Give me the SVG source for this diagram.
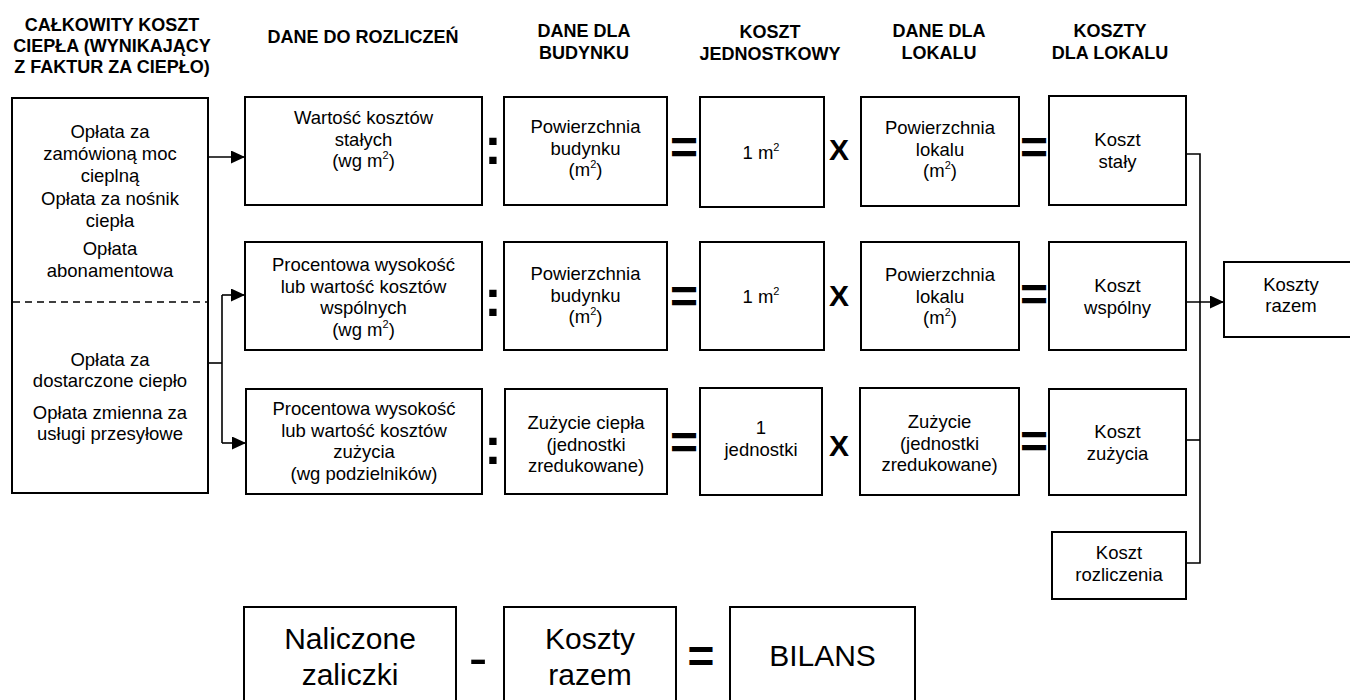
<svg xmlns="http://www.w3.org/2000/svg" width="1350" height="700" viewBox="0 0 1350 700">
<defs>
<style>
.box{fill:#fff;stroke:#000;stroke-width:2}
.t{font-family:"Liberation Sans",Arial,sans-serif;font-size:18.5px;text-anchor:middle;fill:#000}
.h{font-family:"Liberation Sans",Arial,sans-serif;font-size:18px;font-weight:bold;text-anchor:middle;fill:#000}
.op{font-family:"Liberation Sans",Arial,sans-serif;font-weight:bold;text-anchor:middle;fill:#000}
.big{font-family:"Liberation Sans",Arial,sans-serif;font-size:30px;text-anchor:middle;fill:#000}
.conn{fill:none;stroke:#000;stroke-width:1.6}
.dash{fill:none;stroke:#000;stroke-width:1.6;stroke-dasharray:7 5}
.sup{font-size:11px}
</style>
<marker id="arr" markerWidth="14" markerHeight="13" refX="14" refY="6.5" orient="auto" markerUnits="userSpaceOnUse">
<path d="M0,0 L14,6.5 L0,13 z" fill="#000"/>
</marker>
</defs>
<rect width="1350" height="700" fill="#fff"/>

<g id="headers">
<text class="h" x="112" y="31">CAŁKOWITY KOSZT</text>
<text class="h" x="112" y="52">CIEPŁA (WYNIKAJĄCY</text>
<text class="h" x="112" y="73">Z FAKTUR ZA CIEPŁO)</text>
<text class="h" x="363" y="43">DANE DO ROZLICZEŃ</text>
<text class="h" x="584" y="37">DANE DLA</text>
<text class="h" x="584" y="59">BUDYNKU</text>
<text class="h" x="770" y="38">KOSZT</text>
<text class="h" x="770" y="60">JEDNOSTKOWY</text>
<text class="h" x="939" y="37">DANE DLA</text>
<text class="h" x="939" y="59">LOKALU</text>
<text class="h" x="1110" y="37">KOSZTY</text>
<text class="h" x="1110" y="59">DLA LOKALU</text>
</g>

<g id="connectors">
<line class="conn" x1="208" y1="157" x2="245" y2="157" marker-end="url(#arr)"/>
<polyline class="conn" points="208,363 222,363"/>
<polyline class="conn" points="222,295 222,443"/>
<line class="conn" x1="222" y1="295" x2="245" y2="295" marker-end="url(#arr)"/>
<line class="conn" x1="222" y1="443" x2="246" y2="443" marker-end="url(#arr)"/>
<polyline class="conn" points="1186,154 1200,154 1200,563 1186,563"/>
<line class="conn" x1="1186" y1="440" x2="1200" y2="440"/>
<line class="conn" x1="1186" y1="302" x2="1224" y2="302" marker-end="url(#arr)"/>
</g>

<g id="node-left">
<rect class="box" x="12" y="98" width="196" height="395"/>
<line class="dash" x1="13" y1="302" x2="207" y2="302"/>
<text class="t" x="110" y="138">Opłata za</text>
<text class="t" x="110" y="160">zamówioną moc</text>
<text class="t" x="110" y="182">cieplną</text>
<text class="t" x="110" y="205">Opłata za nośnik</text>
<text class="t" x="110" y="227">ciepła</text>
<text class="t" x="110" y="255">Opłata</text>
<text class="t" x="110" y="277">abonamentowa</text>
<text class="t" x="110" y="366">Opłata za</text>
<text class="t" x="110" y="387">dostarczone ciepło</text>
<text class="t" x="110" y="419">Opłata zmienna za</text>
<text class="t" x="110" y="440">usługi przesyłowe</text>
</g>

<!-- Row 1 -->
<g id="node-r1-a">
<rect class="box" x="245" y="97" width="237" height="108"/>
<text class="t" x="363.5" y="124">Wartość kosztów</text>
<text class="t" x="363.5" y="145.5">stałych</text>
<text class="t" x="363.5" y="167">(wg m<tspan class="sup" dy="-8">2</tspan><tspan dy="8">)</tspan></text>
</g>
<g id="node-r1-b">
<rect class="box" x="504" y="97" width="163" height="108"/>
<text class="t" x="585.5" y="133">Powierzchnia</text>
<text class="t" x="585.5" y="154.5">budynku</text>
<text class="t" x="585.5" y="176">(m<tspan class="sup" dy="-8">2</tspan><tspan dy="8">)</tspan></text>
</g>
<g id="node-r1-c">
<rect class="box" x="700" y="97" width="124" height="110"/>
<text class="t" x="761" y="159">1 m<tspan class="sup" dy="-8">2</tspan></text>
</g>
<g id="node-r1-d">
<rect class="box" x="861" y="97" width="158" height="109"/>
<text class="t" x="940" y="134">Powierzchnia</text>
<text class="t" x="940" y="155.5">lokalu</text>
<text class="t" x="940" y="177">(m<tspan class="sup" dy="-8">2</tspan><tspan dy="8">)</tspan></text>
</g>
<g id="node-r1-e">
<rect class="box" x="1049" y="96" width="137" height="109"/>
<text class="t" x="1117.5" y="146">Koszt</text>
<text class="t" x="1117.5" y="168">stały</text>
</g>

<!-- Row 2 -->
<g id="node-r2-a">
<rect class="box" x="245" y="242" width="237" height="108"/>
<text class="t" x="363.5" y="271">Procentowa wysokość</text>
<text class="t" x="363.5" y="292.5">lub wartość kosztów</text>
<text class="t" x="363.5" y="314">wspólnych</text>
<text class="t" x="363.5" y="335.5">(wg m<tspan class="sup" dy="-8">2</tspan><tspan dy="8">)</tspan></text>
</g>
<g id="node-r2-b">
<rect class="box" x="504" y="242" width="163" height="108"/>
<text class="t" x="585.5" y="280">Powierzchnia</text>
<text class="t" x="585.5" y="301.5">budynku</text>
<text class="t" x="585.5" y="323">(m<tspan class="sup" dy="-8">2</tspan><tspan dy="8">)</tspan></text>
</g>
<g id="node-r2-c">
<rect class="box" x="700" y="242" width="124" height="108"/>
<text class="t" x="761" y="303">1 m<tspan class="sup" dy="-8">2</tspan></text>
</g>
<g id="node-r2-d">
<rect class="box" x="861" y="242" width="158" height="108"/>
<text class="t" x="940" y="281">Powierzchnia</text>
<text class="t" x="940" y="302.5">lokalu</text>
<text class="t" x="940" y="324">(m<tspan class="sup" dy="-8">2</tspan><tspan dy="8">)</tspan></text>
</g>
<g id="node-r2-e">
<rect class="box" x="1049" y="242" width="137" height="108"/>
<text class="t" x="1117.5" y="292">Koszt</text>
<text class="t" x="1117.5" y="313.5">wspólny</text>
</g>

<!-- Row 3 -->
<g id="node-r3-a">
<rect class="box" x="246" y="389" width="236" height="105"/>
<text class="t" x="364" y="415">Procentowa wysokość</text>
<text class="t" x="364" y="436.5">lub wartość kosztów</text>
<text class="t" x="364" y="458">zużycia</text>
<text class="t" x="364" y="479.5">(wg podzielników)</text>
</g>
<g id="node-r3-b">
<rect class="box" x="505" y="389" width="162" height="105"/>
<text class="t" x="586" y="429">Zużycie ciepła</text>
<text class="t" x="586" y="450.5">(jednostki</text>
<text class="t" x="586" y="472">zredukowane)</text>
</g>
<g id="node-r3-c">
<rect class="box" x="700" y="388" width="122" height="107"/>
<text class="t" x="761" y="434">1</text>
<text class="t" x="761" y="456">jednostki</text>
</g>
<g id="node-r3-d">
<rect class="box" x="860" y="388" width="159" height="107"/>
<text class="t" x="939.5" y="428">Zużycie</text>
<text class="t" x="939.5" y="449.5">(jednostki</text>
<text class="t" x="939.5" y="471">zredukowane)</text>
</g>
<g id="node-r3-e">
<rect class="box" x="1049" y="389" width="137" height="106"/>
<text class="t" x="1117.5" y="438">Koszt</text>
<text class="t" x="1117.5" y="459.5">zużycia</text>
</g>

<g id="node-rozliczenie">
<rect class="box" x="1052" y="532" width="134" height="67"/>
<text class="t" x="1119" y="559">Koszt</text>
<text class="t" x="1119" y="581">rozliczenia</text>
</g>
<g id="node-koszty-razem">
<rect class="box" x="1224" y="262" width="128" height="75"/>
<text class="t" x="1291" y="291">Koszty</text>
<text class="t" x="1291" y="312">razem</text>
</g>

<g id="operators">
<text class="op" x="493" y="164" font-size="52">:</text>
<text class="op" x="493" y="316" font-size="52">:</text>
<text class="op" x="493" y="464" font-size="52">:</text>
<text class="op" x="684" y="164" font-size="48">=</text>
<text class="op" x="684" y="313" font-size="48">=</text>
<text class="op" x="684" y="459" font-size="48">=</text>
<text class="op" x="839" y="160" font-size="30">X</text>
<text class="op" x="839" y="306" font-size="30">X</text>
<text class="op" x="839" y="456" font-size="30">X</text>
<text class="op" x="1034" y="164" font-size="48">=</text>
<text class="op" x="1034" y="311" font-size="48">=</text>
<text class="op" x="1034" y="458" font-size="48">=</text>
</g>

<g id="node-naliczone">
<rect class="box" x="244" y="607" width="212" height="95"/>
<text class="big" x="350" y="649">Naliczone</text>
<text class="big" x="350" y="685">zaliczki</text>
</g>
<g id="node-koszty-bottom">
<rect class="box" x="504" y="607" width="172" height="95"/>
<text class="big" x="590" y="649">Koszty</text>
<text class="big" x="590" y="685">razem</text>
</g>
<g id="node-bilans">
<rect class="box" x="730" y="607" width="185" height="95"/>
<text class="big" x="822.5" y="666">BILANS</text>
</g>
<g id="operators-bottom">
<text x="478" y="677" font-family="Liberation Sans, Arial, sans-serif" font-size="56" text-anchor="middle">-</text>
<text class="op" x="701" y="672" font-size="46">=</text>
</g>
</svg>
